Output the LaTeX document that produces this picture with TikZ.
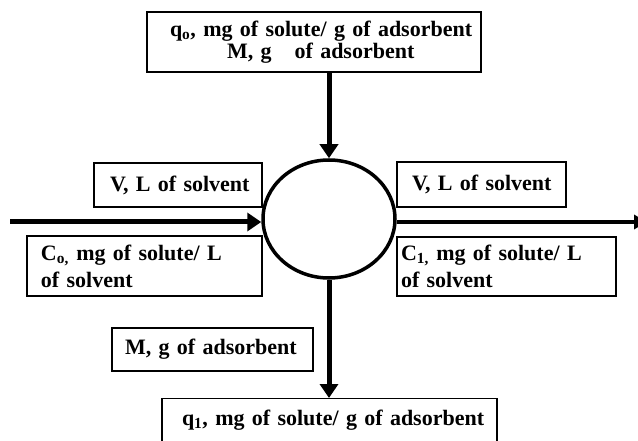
\documentclass[tikz,border=0pt]{standalone}
\usepackage{fontspec}
\setmainfont{Liberation Serif}
\usetikzlibrary{arrows.meta,shapes.geometric}
\tikzset{
  box/.style={draw, line width=1.3pt, rectangle, align=left, inner ysep=0pt,
    font=\bfseries\fontsize{22}{27}\selectfont},
  flow/.style={line width=5pt, -{Triangle[length=14pt,width=18pt]}},
  vessel/.style={draw, ellipse, line width=3.5pt, minimum width=132pt, minimum height=118pt, inner sep=0pt}
}
\begin{document}
\begin{tikzpicture}[x=1pt,y=-1pt]
\clip (0,0) rectangle (638,441);
\node[vessel] (c) at (329,219) {};
\node[box, minimum width=334pt, minimum height=60pt, text width=300pt, inner xsep=17pt,
  font=\bfseries\fontsize{22}{22}\selectfont] (top) at (314,42)
  {\mbox{\hspace*{6pt}q\textsubscript{o}, mg of solute/ g of adsorbent}\\\mbox{\hspace*{63pt}M, g\hspace{23pt}of adsorbent}};
\node[box, minimum width=168pt, minimum height=44pt, text width=136pt, inner xsep=16pt] (vl) at (178,185) {\mbox{V, L of solvent}};
\node[box, minimum width=235pt, minimum height=60pt, text width=207pt, inner xsep=14pt] (cin) at (144.5,266) {\mbox{C\textsubscript{o,} mg of solute/ L}\\\mbox{of solvent}};
\node[box, minimum width=169pt, minimum height=45pt, text width=139pt, inner xsep=15pt] (vr) at (481.5,184.5) {\mbox{V, L of solvent}};
\node[box, minimum width=219pt, minimum height=59pt, text width=211pt, inner xsep=4pt] (cout) at (506.5,266.5) {\mbox{C\textsubscript{1,} mg of solute/ L}\\\mbox{of solvent}};
\node[box, minimum width=201pt, minimum height=43pt, text width=175pt, inner xsep=13pt] (m) at (212.5,349.5) {\mbox{M, g of adsorbent}};
\node[box, minimum width=335pt, minimum height=80pt, text width=295pt, inner xsep=20pt, anchor=north] (qout) at (329.5,398) {\raisebox{0pt}[0pt][26pt]{q\textsubscript{1}, mg of solute/ g of adsorbent}};
\coordinate (lin) at (10,222);
\coordinate (rout) at (647,222);
\draw[flow] (c.north |- top.south) -- (c.north);
\draw[flow] (lin) -- (lin -| c.west);
\draw[line width=4.5pt, -{Triangle[length=13pt,width=14pt]}] (c.east |- rout) -- (rout);
\draw[flow] (c.south) -- (c.south |- qout.north);
\end{tikzpicture}
\end{document}
